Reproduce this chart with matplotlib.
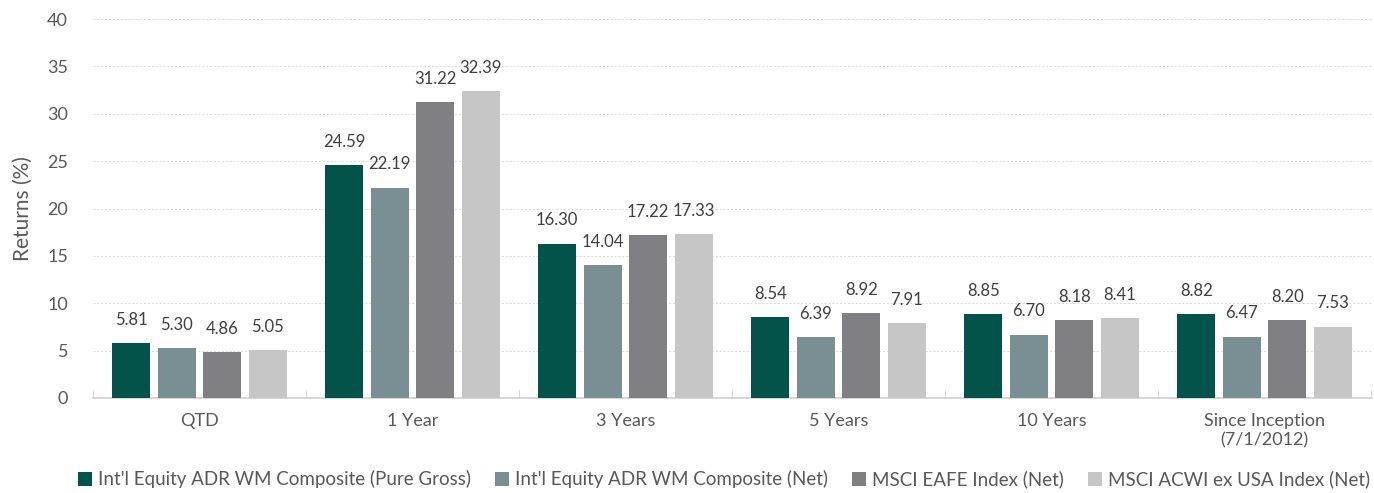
import matplotlib.pyplot as plt
import numpy as np

categories = ["QTD", "1 Year", "3 Years", "5 Years", "10 Years", "Since Inception\n(7/1/2012)"]
series_names = [
    "Int'l Equity ADR WM Composite (Pure Gross)",
    "Int'l Equity ADR WM Composite (Net)",
    "MSCI EAFE Index (Net)",
    "MSCI ACWI ex USA Index (Net)",
]
pure_gross = [5.81, 24.59, 16.30, 8.54, 8.85, 8.82]
composite_net = [5.30, 22.19, 14.04, 6.39, 6.70, 6.47]
eafe = [4.86, 31.22, 17.22, 8.92, 8.18, 8.20]
acwi_ex_usa = [5.05, 32.39, 17.33, 7.91, 8.41, 7.53]
y_ticks = [0, 5, 10, 15, 20, 25, 30, 35, 40]

colors = ["#03534B", "#7A8F93", "#808083", "#C6C6C6"]
plt.rcParams['font.family'] = ['Lato', 'DejaVu Sans']

fig = plt.figure(figsize=(13.74, 4.93), dpi=100)
ax = fig.add_axes([93 / 1374, 95 / 493, (1371 - 93) / 1374, (398 - 19) / 493])

x = np.arange(len(categories))
slot = 0.2136
width = 0.18
for i, (vals, name, c) in enumerate(zip([pure_gross, composite_net, eafe, acwi_ex_usa], series_names, colors)):
    pos = x + (i - 1.5) * slot
    ax.bar(pos, vals, width=width, color=c, label=name, zorder=3)
    for p, v in zip(pos, vals):
        ax.annotate(f"{v:.2f}", (p, v), xytext=(0, 11), textcoords="offset points",
                    ha="center", va="bottom", fontsize=12, color="#404040")

ax.set_xlim(-0.5, len(categories) - 0.5)
ax.set_ylim(0, 40)
ax.set_yticks(y_ticks)
ax.set_xticks(x)
ax.set_xticklabels(categories)
ax.tick_params(axis='x', length=0, labelsize=13, colors="#595959", pad=11)
ax.tick_params(axis='y', length=0, labelsize=13, colors="#595959", pad=18)
ax.set_xticks(np.arange(len(categories) + 1) - 0.5, minor=True)
ax.tick_params(axis='x', which='minor', length=6, color="#D0D0D0", direction='in')
ax.grid(axis='y', color="#D9D9D9", linestyle=(0, (2, 2)), linewidth=0.7, zorder=0)
for s in ["top", "right", "left"]:
    ax.spines[s].set_visible(False)
ax.spines["bottom"].set_color("#D0D0D0")
ax.spines["bottom"].set_linewidth(1.2)
ax.set_ylabel("Returns (%)", fontsize=15, color="#595959", labelpad=10)

leg = fig.legend(loc="lower center", bbox_to_anchor=(0.527, -0.025), ncol=4, frameon=False,
                 fontsize=13.5, handlelength=0.75, handleheight=0.75, handletextpad=0.3,
                 columnspacing=1.3, labelcolor="#595959")

fig.savefig("out.png", dpi=100)
